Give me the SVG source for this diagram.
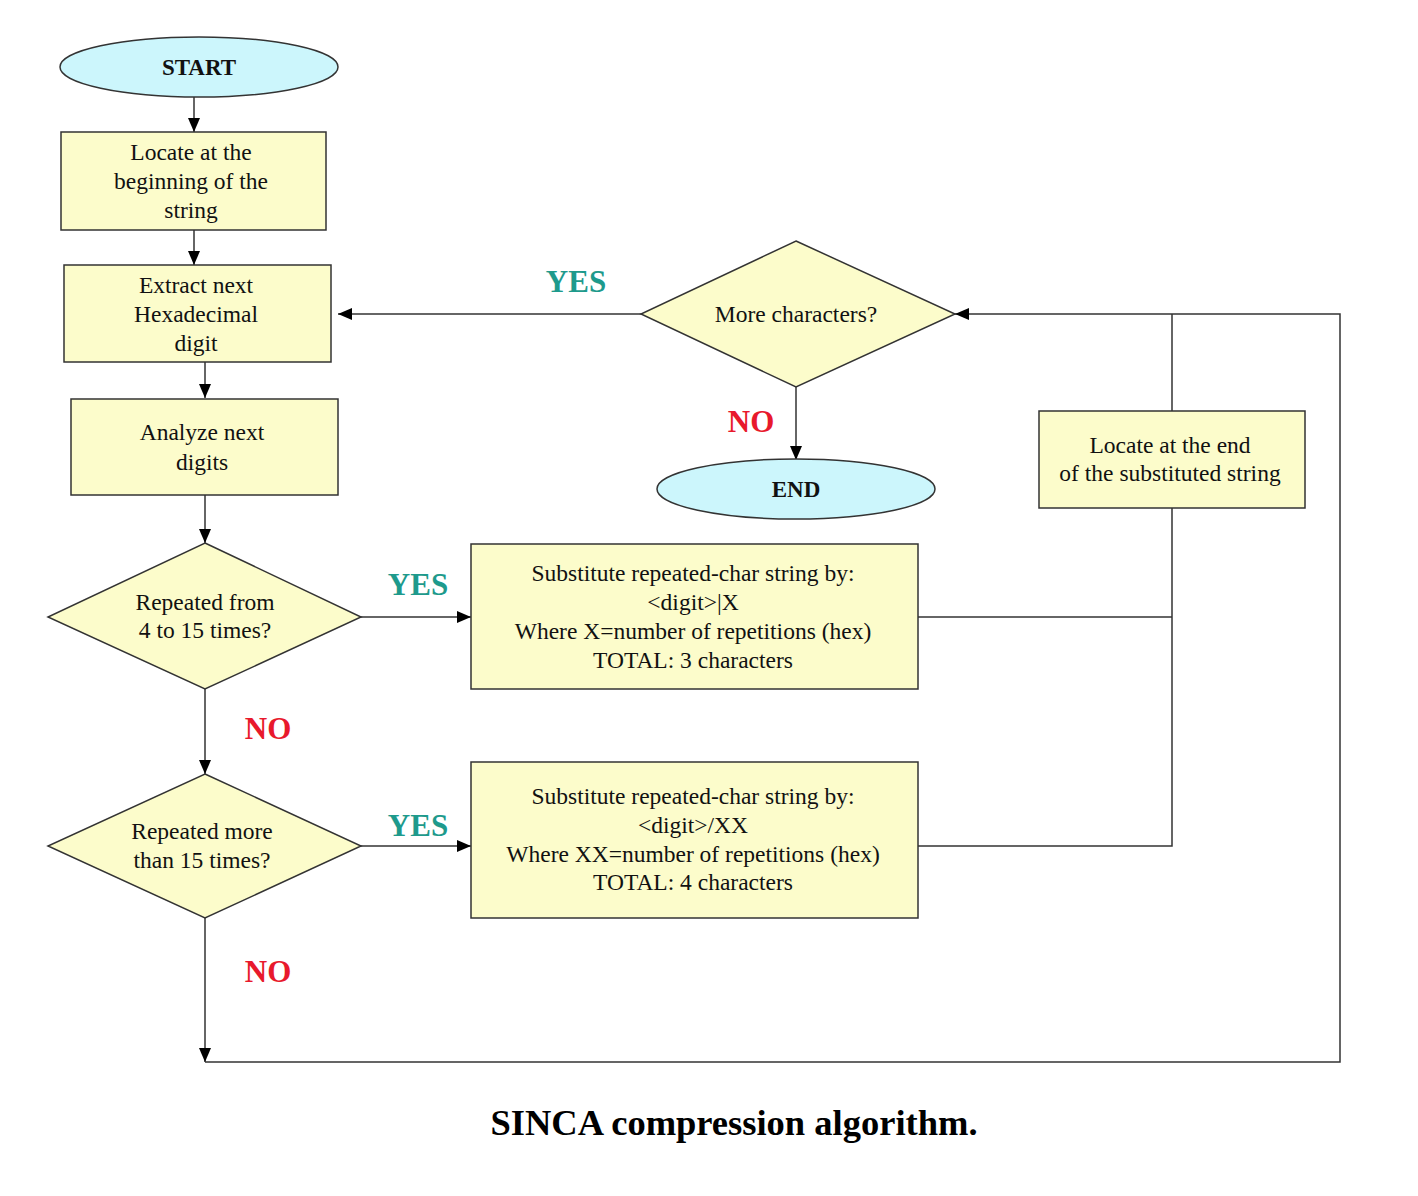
<svg xmlns="http://www.w3.org/2000/svg" width="1418" height="1196" viewBox="0 0 1418 1196">
<style>
.box{fill:#FCFCCB;stroke:#333;stroke-width:1.5}
.term{fill:#CCF6FC;stroke:#333;stroke-width:1.5}
.t{font-family:"Liberation Serif","Times New Roman",serif;font-size:23.5px;fill:#111;text-anchor:middle}
.tb{font-family:"Liberation Serif","Times New Roman",serif;font-size:23px;font-weight:bold;fill:#111;text-anchor:middle}
.yes{font-family:"Liberation Serif","Times New Roman",serif;font-size:31px;font-weight:bold;fill:#1E9A8C;text-anchor:middle}
.no{font-family:"Liberation Serif","Times New Roman",serif;font-size:31px;font-weight:bold;fill:#E8192C;text-anchor:middle}
.cap{font-family:"Liberation Serif","Times New Roman",serif;font-size:36.5px;font-weight:bold;fill:#000;text-anchor:middle}
.c{fill:none;stroke:#333;stroke-width:1.5}
.ca{fill:none;stroke:#333;stroke-width:1.5;marker-end:url(#ah)}
</style>
<defs>
<marker id="ah" viewBox="0 0 14 12" refX="14" refY="6" markerWidth="14" markerHeight="12" markerUnits="userSpaceOnUse" orient="auto">
<path d="M0,0 L14,6 L0,12 Z" fill="#000"/>
</marker>
</defs>
<rect width="1418" height="1196" fill="#fff"/>
<g id="connectors">
<line class="ca" x1="194" y1="97" x2="194" y2="132"/>
<line class="ca" x1="194" y1="230" x2="194" y2="265"/>
<line class="ca" x1="205" y1="362" x2="205" y2="398"/>
<line class="ca" x1="205" y1="495" x2="205" y2="543"/>
<line class="ca" x1="361" y1="617" x2="471" y2="617"/>
<line class="ca" x1="205" y1="689" x2="205" y2="774"/>
<line class="ca" x1="361" y1="846" x2="471" y2="846"/>
<line class="ca" x1="205" y1="918" x2="205" y2="1062"/>
<polyline class="ca" points="205,1062 1340,1062 1340,314 955,314"/>
<line class="ca" x1="641" y1="314" x2="338" y2="314"/>
<line class="ca" x1="796" y1="387" x2="796" y2="460"/>
<line class="c" x1="918" y1="617" x2="1172" y2="617"/>
<polyline class="c" points="918,846 1172,846 1172,508"/>
<line class="c" x1="1172" y1="411" x2="1172" y2="314"/>
<text class="yes" x="418" y="595">YES</text>
<text class="yes" x="418" y="836">YES</text>
<text class="yes" x="576" y="292">YES</text>
<text class="no" x="268" y="739">NO</text>
<text class="no" x="268" y="982">NO</text>
<text class="no" x="751" y="432">NO</text>
</g>
<g id="start">
<ellipse class="term" cx="199" cy="67" rx="139" ry="30"/>
<text class="tb" x="199" y="75">START</text>
</g>
<g id="locate-begin">
<rect class="box" x="61" y="132" width="265" height="98"/>
<text class="t" x="191" y="160">Locate at the</text>
<text class="t" x="191" y="189">beginning of the</text>
<text class="t" x="191" y="218">string</text>
</g>
<g id="extract">
<rect class="box" x="64" y="265" width="267" height="97"/>
<text class="t" x="196" y="293">Extract next</text>
<text class="t" x="196" y="322">Hexadecimal</text>
<text class="t" x="196" y="351">digit</text>
</g>
<g id="analyze">
<rect class="box" x="71" y="399" width="267" height="96"/>
<text class="t" x="202" y="440">Analyze next</text>
<text class="t" x="202" y="470">digits</text>
</g>
<g id="rep4to15">
<polygon class="box" points="205,543 361,617 205,689 48,617"/>
<text class="t" x="205" y="610">Repeated from</text>
<text class="t" x="205" y="638">4 to 15 times?</text>
</g>
<g id="sub3">
<rect class="box" x="471" y="544" width="447" height="145"/>
<text class="t" x="693" y="581">Substitute repeated-char string by:</text>
<text class="t" x="693" y="610">&lt;digit&gt;|X</text>
<text class="t" x="693" y="639">Where X=number of repetitions (hex)</text>
<text class="t" x="693" y="668">TOTAL: 3 characters</text>
</g>
<g id="repmore15">
<polygon class="box" points="205,774 361,846 205,918 48,846"/>
<text class="t" x="202" y="839">Repeated more</text>
<text class="t" x="202" y="868">than 15 times?</text>
</g>
<g id="sub4">
<rect class="box" x="471" y="762" width="447" height="156"/>
<text class="t" x="693" y="804">Substitute repeated-char string by:</text>
<text class="t" x="693" y="833">&lt;digit&gt;/XX</text>
<text class="t" x="693" y="862">Where XX=number of repetitions (hex)</text>
<text class="t" x="693" y="890">TOTAL: 4 characters</text>
</g>
<g id="more">
<polygon class="box" points="796,241 955,314 796,387 641,314"/>
<text class="t" x="796" y="322">More characters?</text>
</g>
<g id="end">
<ellipse class="term" cx="796" cy="489" rx="139" ry="30"/>
<text class="tb" x="796" y="497">END</text>
</g>
<g id="locate-end">
<rect class="box" x="1039" y="411" width="266" height="97"/>
<text class="t" x="1170" y="453">Locate at the end</text>
<text class="t" x="1170" y="481">of the substituted string</text>
</g>
<text class="cap" x="734" y="1135">SINCA compression algorithm.</text>
</svg>
